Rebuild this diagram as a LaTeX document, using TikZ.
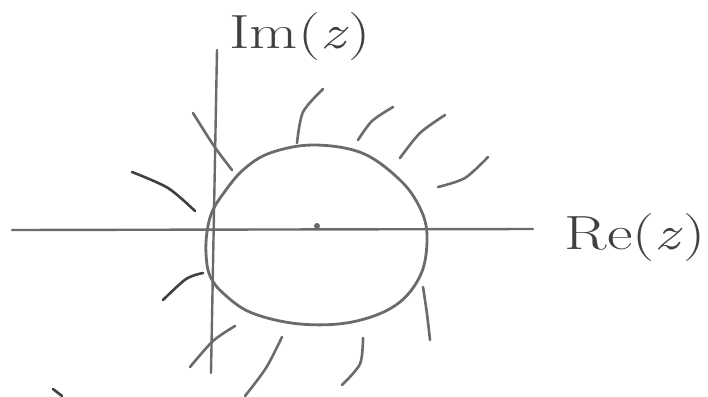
\documentclass[tikz,border=0pt]{standalone}
\usepackage{amsmath,amssymb}
\usepackage{xcolor}
\usepackage{tikz}
\usetikzlibrary{calc}
\definecolor{pencil}{gray}{0.42}
\definecolor{pencildark}{gray}{0.25}

\begin{document}
\begin{tikzpicture}[
    x=1pt, y=-1pt,
    axis/.style={draw=pencil, line width=2.4pt, line cap=round},
    curve/.style={draw=pencil, line width=2.8pt, line cap=round, line join=round},
    hatch/.style={draw=pencil, line width=2.6pt, line cap=round},
    label/.style={text=pencildark, font=\fontsize{48}{48}\selectfont, inner sep=0pt, xscale=1.3},
]
    \useasboundingbox (0,0) rectangle (708,396);

    % Axes
    \coordinate (re_left) at (12,230);
    \coordinate (re_right) at (533,229);
    \coordinate (im_top) at (217,50);
    \coordinate (im_bot) at (211,373);
    \draw[axis] (re_left) -- (re_right);
    \draw[axis] (im_top) -- (im_bot);

    % Labels
    \node[label] (im_lbl) at (300,37) {Im(\textit{z})};
    \node[label] (re_lbl) at (635,238) {Re(\textit{z})};

    % Circle and its centre
    \draw[curve] plot[smooth cycle, tension=0.6] coordinates {
        (207,232) (212,212) (223,194) (243,170) (270,153) (313,145)
        (362,153) (400,180) (420,208) (427,236) (421,274) (396,305)
        (352,322) (300,324) (252,313) (224,294) (210,276) (206,254)};
    \node[circle, fill=pencil, minimum size=6pt, inner sep=0pt] (centre) at (317,226) {};

    % Hatching outside the circle
    \draw[hatch] plot[smooth] coordinates {(323,89) (303,112) (297,143)};
    \draw[hatch] plot[smooth] coordinates {(393,107) (372,121) (358,140)};
    \draw[hatch] plot[smooth] coordinates {(445,115) (420,133) (400,158)};
    \draw[hatch] plot[smooth] coordinates {(488,157) (465,178) (438,187)};
    \draw[hatch] plot[smooth] coordinates {(193,113) (214,146) (232,170)};
    \draw[hatch, draw=pencildark] plot[smooth] coordinates {(132,172) (168,188) (195,211)};
    \draw[hatch, draw=pencildark] plot[smooth] coordinates {(163,300) (186,279) (203,273)};
    \draw[hatch] plot[smooth] coordinates {(190,367) (213,341) (235,326)};
    \draw[hatch] plot[smooth] coordinates {(282,337) (266,368) (245,396)};
    \draw[hatch] plot[smooth] coordinates {(363,338) (360,364) (342,385)};
    \draw[hatch] plot[smooth] coordinates {(423,287) (427,314) (430,340)};
    \draw[hatch, draw=pencildark] (53,389) -- (62,396);
\end{tikzpicture}
\end{document}
